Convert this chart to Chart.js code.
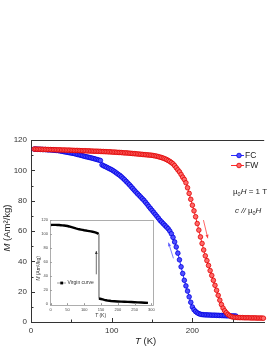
<!DOCTYPE html>
<html><head><meta charset="utf-8">
<script src="https://cdn.jsdelivr.net/npm/chart.js@4"></script>
<style>
html,body{margin:0;padding:0;background:#fff;}
#wrap{position:relative;width:269px;height:349px;overflow:hidden;background:#fff;}
#main{position:absolute;left:0;top:0;}
#inset{position:absolute;left:30px;top:215px;}
</style></head><body>
<div id="wrap"><canvas id="main" width="269" height="349"></canvas><canvas id="inset" width="130" height="110"></canvas></div>
<script>
// ---- data ----
const fwT = [4,6,8,10,12,14,16,18,20,22,24,26,28,30,32,34,36,38,40,42,44,46,48,50,52,54,56,58,60,62,64,66,68,70,72,74,76,78,80,82,84,86,88,90,92,94,96,98,100,
102,104,106,108,110,112,114,116,118,120,122,124,126,128,130,132,134,136,138,140,142,144,146,148,150,
152,154,156,158,160,162,164,166,168,170,172,174,
176,178,180,182,184,186,188,190,192,194,196,198,200,202,204,206,208,210,212,214,216,218,220,222,224,226,228,230,232,234,236,238,240,242,244,246,248,250,252,254,
256,258,260,262,264,266,268,270,272,274,276,278,280,282,284,286,288];
const fwM = [114.0,114.0,113.9,113.9,113.9,113.8,113.8,113.8,113.7,113.7,113.7,113.6,113.6,113.6,113.5,113.5,113.5,113.4,113.4,113.4,113.3,113.3,113.3,113.2,113.2,113.1,113.1,113.1,113.0,113.0,112.9,112.9,112.9,112.8,112.8,112.7,112.7,112.6,112.6,112.6,112.5,112.5,112.4,112.4,112.3,112.3,112.2,112.2,112.1,
112.0,112.0,111.9,111.8,111.8,111.7,111.6,111.5,111.5,111.4,111.3,111.2,111.1,111.0,110.9,110.8,110.7,110.6,110.5,110.4,110.3,110.2,110.1,110.0,109.9,
109.7,109.5,109.3,109.0,108.7,108.4,108.0,107.6,107.1,106.5,105.9,105.1,
104.3,103.1,101.7,100.3,99.0,97.3,95.5,94.0,91.8,88.5,84.8,80.9,77.0,73.3,69.4,64.9,60.6,56.1,51.8,47.5,43.6,40.5,37.3,33.9,30.7,27.5,24.2,20.9,17.6,14.4,11.5,9.2,7.4,6.1,5.0,4.2,3.6,3.3,3.1,3.0,
3.0,2.9,2.9,2.9,2.8,2.8,2.8,2.8,2.7,2.7,2.7,2.7,2.6,2.6,2.6,2.6,2.5];
const fcT = [4,6,8,10,12,14,16,18,20,22,24,26,28,30,32,34,36,38,40,42,44,46,48,50,
52,54,56,58,60,62,64,66,68,70,72,74,76,78,80,82,84,86,88,90,92,94,96,98,100,
102,104,106,108,110,112,114,116,118,120,122,124,126,128,130,132,134,136,138,140,142,144,146,148,150,
152,154,156,158,160,162,164,166,168,170,172,174,176,178,180,182,184,186,188,190,192,194,196,198,200,
202,204,206,208,210,212,214,216,218,220,222,224,226,228,230,232,234,236,238,240,242,244,246,248,250,252,254];
const fcM = [114.0,114.0,113.9,113.9,113.8,113.8,113.7,113.7,113.6,113.5,113.5,113.4,113.3,113.2,113.1,113.0,112.8,112.6,112.4,112.2,112.0,111.8,111.6,111.4,
111.2,111.0,110.7,110.4,110.2,109.9,109.6,109.3,109.0,108.8,108.5,108.3,108.0,107.7,107.4,107.1,106.8,106.5,103.6,103.0,102.5,102.0,101.4,100.9,100.4,
99.7,99.0,98.2,97.4,96.7,95.8,94.8,93.8,92.7,91.6,90.5,89.3,88.1,86.9,85.7,84.6,83.5,82.4,81.3,80.2,78.9,77.6,76.2,74.9,73.6,
72.3,71.0,69.7,68.4,67.0,65.9,64.8,63.7,62.6,61.5,60.0,58.2,55.8,52.8,49.5,45.4,41.0,36.4,32.0,27.5,23.8,20.4,16.6,13.0,9.9,
8.1,6.9,6.1,5.5,5.1,4.9,4.8,4.7,4.7,4.6,4.6,4.5,4.5,4.5,4.4,4.4,4.3,4.3,4.2,4.2,4.1,4.1,4.1,4.0,4.0,4.0,3.9];
const virginT = [0,5,10,15,20,25,30,35,40,45,50,55,60,65,70,75,80,85,90,95,100,105,110,115,120,125,130,135,140,143,
144,150,155,160,165,170,175,180,190,200,210,220,230,240,250,260,270,280,290];
const virginM = [112.9,113.0,113.0,113.0,112.9,112.8,112.6,112.4,112.1,111.8,111.4,110.8,110.1,109.4,108.7,108.0,107.4,106.9,106.4,105.9,105.4,105.0,104.6,104.2,103.8,103.3,102.7,102.0,101.0,100.0,
8.2,7.5,6.9,6.3,5.8,5.3,5.0,4.7,4.3,4.0,3.8,3.6,3.4,3.2,3.0,2.7,2.5,2.2,2.0];
const seriesNames = ['FC','FW'];
const insetLegend = 'Virgin curve';
const mainXMajor = [0,100,200], mainXMinor = [50,150,250];
const mainYMajor = [0,20,40,60,80,100,120], mainYMinor = [10,30,50,70,90,110];
const insetXTicks = [0,50,100,150,200,250,300], insetYTicks = [0,20,40,60,80,100,120];

const FONT = '"Liberation Sans", Arial, Helvetica, sans-serif';
function runs(ctx, x, y, parts, align) {
  let w = 0;
  parts.forEach(p => { ctx.font = (p.it ? 'italic ' : '') + p.s + 'px ' + FONT; p.w = ctx.measureText(p.t).width; w += p.w; });
  let cx = align === 'center' ? x - w / 2 : x;
  ctx.textAlign = 'left'; ctx.textBaseline = 'middle';
  parts.forEach(p => { ctx.font = (p.it ? 'italic ' : '') + p.s + 'px ' + FONT; ctx.fillText(p.t, cx, y + (p.dy || 0)); cx += p.w; });
}
function arrow(ctx, x0, y0, x1, y1, color, lw, head) {
  ctx.save(); ctx.strokeStyle = color; ctx.fillStyle = color; ctx.lineWidth = lw;
  ctx.beginPath(); ctx.moveTo(x0, y0); ctx.lineTo(x1, y1); ctx.stroke();
  const a = Math.atan2(y1 - y0, x1 - x0);
  ctx.beginPath(); ctx.moveTo(x1, y1);
  ctx.lineTo(x1 - head * Math.cos(a) + head * 0.45 * Math.sin(a), y1 - head * Math.sin(a) - head * 0.45 * Math.cos(a));
  ctx.lineTo(x1 - head * Math.cos(a) - head * 0.45 * Math.sin(a), y1 - head * Math.sin(a) + head * 0.45 * Math.cos(a));
  ctx.closePath(); ctx.fill(); ctx.restore();
}
function inwardTicks(ctx, chart, majX, minX, majY, minY, lMaj, lMin, color) {
  const xs = chart.scales.x, ys = chart.scales.y, a = chart.chartArea;
  ctx.save(); ctx.strokeStyle = color; ctx.lineWidth = 1;
  const doX = (v, l) => { const p = Math.round(xs.getPixelForValue(v)) + 0.5; ctx.beginPath(); ctx.moveTo(p, a.bottom); ctx.lineTo(p, a.bottom - l); ctx.stroke(); };
  const doY = (v, l) => { const p = Math.round(ys.getPixelForValue(v)) + 0.5; ctx.beginPath(); ctx.moveTo(a.left, p); ctx.lineTo(a.left + l, p); ctx.stroke(); };
  majX.forEach(v => doX(v, lMaj)); minX.forEach(v => doX(v, lMin));
  majY.forEach(v => doY(v, lMaj)); minY.forEach(v => doY(v, lMin));
  ctx.restore();
}

const FCcol = {line:'#2b2bff', fill:'#4f4fff', edge:'#0000e0'};
const FWcol = {line:'#ff2b2b', fill:'#ff6a6a', edge:'#e00000'};

const mainPlugin = {
  id: 'mainDeco',
  afterDraw(chart) {
    const ctx = chart.ctx, a = chart.chartArea, xs = chart.scales.x, ys = chart.scales.y;
    // top frame line
    ctx.save(); ctx.strokeStyle = '#333'; ctx.lineWidth = 1;
    ctx.beginPath(); ctx.moveTo(a.left, Math.round(a.top) + 0.5); ctx.lineTo(a.right, Math.round(a.top) + 0.5); ctx.stroke(); ctx.restore();
    inwardTicks(ctx, chart, mainXMajor, mainXMinor, mainYMajor, mainYMinor, 4, 2.5, '#333');
    ctx.fillStyle = '#222';
    // axis titles
    runs(ctx, (a.left + a.right) / 2 - 2, 341.5, [{t:'T', it:true, s:9.5}, {t:' (K)', s:9.5}], 'center');
    ctx.save(); ctx.translate(7.5, (a.top + a.bottom) / 2 - 3); ctx.rotate(-Math.PI / 2);
    runs(ctx, 0, 0, [{t:'M', it:true, s:9.5}, {t:' (Am²/kg)', s:9.5}], 'center');
    ctx.restore();
    // legend
    [[FCcol, seriesNames[0], 155], [FWcol, seriesNames[1], 165]].forEach(([c, name, y]) => {
      ctx.save(); ctx.strokeStyle = c.line; ctx.lineWidth = 1;
      ctx.beginPath(); ctx.moveTo(231, y + 0.5); ctx.lineTo(244, y + 0.5); ctx.stroke();
      ctx.fillStyle = c.fill; ctx.strokeStyle = c.edge; ctx.lineWidth = 0.8;
      ctx.beginPath(); ctx.arc(239, y + 0.5, 2.3, 0, Math.PI * 2); ctx.fill(); ctx.stroke(); ctx.restore();
      ctx.fillStyle = '#222';
      runs(ctx, 245, y + 0.5, [{t:name, s:8.5}], 'left');
    });
    ctx.fillStyle = '#222';
    runs(ctx, 233, 192, [{t:'μ', s:8}, {t:'0', s:5.5, dy:2}, {t:'H', it:true, s:8}, {t:' = 1 T', s:8}], 'left');
    runs(ctx, 235, 211, [{t:'c //', it:true, s:8}, {t:' μ', s:8}, {t:'0', s:5.5, dy:2}, {t:'H', it:true, s:8}], 'left');
    // arrows
    arrow(ctx, xs.getPixelForValue(213.7), ys.getPixelForValue(67.2), xs.getPixelForValue(219.1), ys.getPixelForValue(55.2), '#ff4040', 0.8, 3.5);
    arrow(ctx, xs.getPixelForValue(176.5), ys.getPixelForValue(42.0), xs.getPixelForValue(170.4), ys.getPixelForValue(52.3), '#5a5aff', 0.8, 3.5);
  }
};

const toXY = (T, M) => T.map((t, i) => ({x: t, y: M[i]}));

new Chart(document.getElementById('main'), {
  type: 'line',
  data: {
    datasets: [
      {label: seriesNames[1], data: toXY(fwT, fwM), borderColor: FWcol.line, borderWidth: 1, pointRadius: 2.3, pointBorderWidth: 0.8,
       pointBackgroundColor: FWcol.fill, pointBorderColor: FWcol.edge, order: 0, clip: false},
      {label: seriesNames[0], data: toXY(fcT, fcM), borderColor: FCcol.line, borderWidth: 1, pointRadius: 2.3, pointBorderWidth: 0.8,
       pointBackgroundColor: FCcol.fill, pointBorderColor: FCcol.edge, order: 1, clip: false}
    ]
  },
  options: {
    responsive: false, animation: false, devicePixelRatio: 1,
    layout: {padding: {top: 140, left: 0, right: 0, bottom: 0}},
    plugins: {legend: {display: false}, tooltip: {enabled: false}},
    scales: {
      x: {type: 'linear', min: 0, max: 289, position: 'bottom',
          ticks: {stepSize: 100, includeBounds: false, font: {family: FONT, size: 8}, color: '#333', padding: 4, maxRotation: 0},
          grid: {drawOnChartArea: false, drawTicks: false},
          border: {display: true, color: '#333', width: 1},
          afterFit(s) { s.height = 27; }},
      y: {type: 'linear', min: 0, max: 120,
          ticks: {stepSize: 20, font: {family: FONT, size: 8}, color: '#333', padding: 4},
          grid: {drawOnChartArea: false, drawTicks: false},
          border: {display: true, color: '#333', width: 1},
          afterFit(s) { s.width = 31; }}
    }
  },
  plugins: [mainPlugin]
});

const insetPlugin = {
  id: 'insetDeco',
  beforeDatasetsDraw(chart) {
    const ctx = chart.ctx, a = chart.chartArea;
    ctx.save(); ctx.fillStyle = '#fff'; ctx.fillRect(a.left, a.top, a.right - a.left, a.bottom - a.top); ctx.restore();
  },
  beforeDraw(chart) {
    const ctx = chart.ctx, a = chart.chartArea;
    ctx.save(); ctx.fillStyle = '#fff'; ctx.fillRect(a.left, a.top, a.right - a.left, a.bottom - a.top); ctx.restore();
  },
  afterDraw(chart) {
    const ctx = chart.ctx, a = chart.chartArea, xs = chart.scales.x, ys = chart.scales.y;
    ctx.save(); ctx.strokeStyle = '#999'; ctx.lineWidth = 0.8;
    ctx.strokeRect(Math.round(a.left) + 0.5, Math.round(a.top) + 0.5, Math.round(a.right - a.left), Math.round(a.bottom - a.top));
    ctx.restore();
    inwardTicks(ctx, chart, insetXTicks, [], insetYTicks, [], 1.8, 1, '#999');
    ctx.fillStyle = '#333';
    runs(ctx, (a.left + a.right) / 2 - 1, 100.5, [{t:'T', it:true, s:5}, {t:' (K)', s:5}], 'center');
    ctx.save(); ctx.translate(8.5, (a.top + a.bottom) / 2 + 6); ctx.rotate(-Math.PI / 2);
    runs(ctx, 0, 0, [{t:'M', it:true, s:5}, {t:' (Am²/kg)', s:5}], 'center');
    ctx.restore();
    // legend
    ctx.save(); ctx.strokeStyle = '#777'; ctx.lineWidth = 0.7;
    ctx.beginPath(); ctx.moveTo(27, 68); ctx.lineTo(36, 68); ctx.stroke();
    ctx.fillStyle = '#000'; ctx.fillRect(30.3, 66.6, 2.8, 2.8); ctx.restore();
    ctx.fillStyle = '#333';
    runs(ctx, 37.5, 68, [{t:insetLegend, s:5}], 'left');
    arrow(ctx, xs.getPixelForValue(136), ys.getPixelForValue(42.7), xs.getPixelForValue(136), ys.getPixelForValue(75.9), '#333', 0.7, 3);
  }
};

new Chart(document.getElementById('inset'), {
  type: 'line',
  data: {datasets: [{label: insetLegend, data: toXY(virginT, virginM), borderColor: '#000', borderWidth: 2.4, pointRadius: 0,
    segment: {borderWidth: c => Math.abs(c.p1.parsed.y - c.p0.parsed.y) > 50 ? 0.7 : 2.4,
              borderColor: c => Math.abs(c.p1.parsed.y - c.p0.parsed.y) > 50 ? '#888' : '#000'}}]},
  options: {
    responsive: false, animation: false, devicePixelRatio: 1,
    layout: {padding: {top: 5, right: 7, left: 0, bottom: 0}},
    plugins: {legend: {display: false}, tooltip: {enabled: false}},
    scales: {
      x: {type: 'linear', min: -2, max: 305,
          ticks: {stepSize: 50, includeBounds: false, font: {family: FONT, size: 4}, color: '#444', padding: 2, maxRotation: 0},
          grid: {drawOnChartArea: false, drawTicks: false},
          border: {display: false},
          afterFit(s) { s.height = 20; }},
      y: {type: 'linear', min: -1, max: 120,
          ticks: {stepSize: 20, includeBounds: false, font: {family: FONT, size: 4}, color: '#444', padding: 2},
          grid: {drawOnChartArea: false, drawTicks: false},
          border: {display: false},
          afterFit(s) { s.width = 20; }}
    }
  },
  plugins: [insetPlugin]
});
</script>
</body></html>
